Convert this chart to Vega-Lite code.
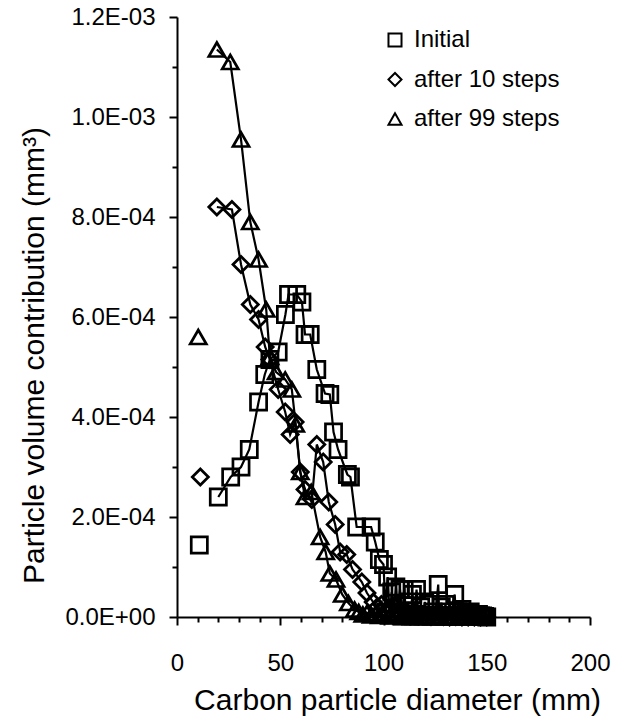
{
  "$schema": "https://vega.github.io/schema/vega-lite/v6.json",
  "width": 413,
  "height": 600,
  "autosize": {"type": "none"},
  "padding": {"left": 177, "top": 17, "right": 27, "bottom": 102},
  "background": "white",
  "config": {
    "view": {"stroke": null},
    "font": "Liberation Sans",
    "axis": {
      "grid": false,
      "domainColor": "black",
      "domainWidth": 2,
      "tickColor": "black",
      "tickWidth": 2,
      "labelColor": "black",
      "titleColor": "black",
      "labelFontSize": 24,
      "titleFontSize": 30,
      "titleFontWeight": "normal",
      "labelFlush": false,
      "labelOverlap": false
    },
    "legend": {"padding": 0}
  },
  "data": {
    "values": [
      {"s": "Initial", "x": 10.8, "y": 1.44e-4},
      {"s": "Initial", "x": 20, "y": 2.4e-4},
      {"s": "Initial", "x": 26, "y": 2.8e-4},
      {"s": "Initial", "x": 31, "y": 3.0e-4},
      {"s": "Initial", "x": 35, "y": 3.35e-4},
      {"s": "Initial", "x": 39.5, "y": 4.3e-4},
      {"s": "Initial", "x": 42.5, "y": 4.85e-4},
      {"s": "Initial", "x": 45, "y": 5.15e-4},
      {"s": "Initial", "x": 49, "y": 5.3e-4},
      {"s": "Initial", "x": 52.5, "y": 6.05e-4},
      {"s": "Initial", "x": 54, "y": 6.45e-4},
      {"s": "Initial", "x": 58, "y": 6.45e-4},
      {"s": "Initial", "x": 60.5, "y": 6.3e-4},
      {"s": "Initial", "x": 62, "y": 5.65e-4},
      {"s": "Initial", "x": 64.5, "y": 5.65e-4},
      {"s": "Initial", "x": 67.7, "y": 4.95e-4},
      {"s": "Initial", "x": 71.7, "y": 4.47e-4},
      {"s": "Initial", "x": 74, "y": 4.45e-4},
      {"s": "Initial", "x": 75.8, "y": 3.7e-4},
      {"s": "Initial", "x": 78, "y": 3.35e-4},
      {"s": "Initial", "x": 82.5, "y": 2.85e-4},
      {"s": "Initial", "x": 84, "y": 2.8e-4},
      {"s": "Initial", "x": 87, "y": 1.8e-4},
      {"s": "Initial", "x": 94, "y": 1.8e-4},
      {"s": "Initial", "x": 96, "y": 1.5e-4},
      {"s": "Initial", "x": 98, "y": 1.15e-4},
      {"s": "Initial", "x": 100, "y": 1.05e-4},
      {"s": "Initial", "x": 101, "y": 0.1e-4},
      {"s": "Initial", "x": 102, "y": 0.8e-4},
      {"s": "Initial", "x": 103, "y": 0.05e-4},
      {"s": "Initial", "x": 104, "y": 0.5e-4},
      {"s": "Initial", "x": 105, "y": 0.05e-4},
      {"s": "Initial", "x": 106, "y": 0.6e-4},
      {"s": "Initial", "x": 107, "y": 0.1e-4},
      {"s": "Initial", "x": 108, "y": 0.55e-4},
      {"s": "Initial", "x": 109, "y": 0.02e-4},
      {"s": "Initial", "x": 110, "y": 0.55e-4},
      {"s": "Initial", "x": 111, "y": 0.05e-4},
      {"s": "Initial", "x": 112, "y": 0.3e-4},
      {"s": "Initial", "x": 113, "y": 0.02e-4},
      {"s": "Initial", "x": 114, "y": 0.45e-4},
      {"s": "Initial", "x": 115, "y": 0.05e-4},
      {"s": "Initial", "x": 116, "y": 0.55e-4},
      {"s": "Initial", "x": 117, "y": 0.02e-4},
      {"s": "Initial", "x": 118, "y": 0.2e-4},
      {"s": "Initial", "x": 119, "y": 0.02e-4},
      {"s": "Initial", "x": 120, "y": 0.3e-4},
      {"s": "Initial", "x": 121, "y": 0.03e-4},
      {"s": "Initial", "x": 122, "y": 0.25e-4},
      {"s": "Initial", "x": 123, "y": 0.02e-4},
      {"s": "Initial", "x": 124, "y": 0.1e-4},
      {"s": "Initial", "x": 125, "y": 0.02e-4},
      {"s": "Initial", "x": 126.5, "y": 0.65e-4},
      {"s": "Initial", "x": 127, "y": 0.02e-4},
      {"s": "Initial", "x": 128, "y": 0.2e-4},
      {"s": "Initial", "x": 129, "y": 0.02e-4},
      {"s": "Initial", "x": 130, "y": 0.25e-4},
      {"s": "Initial", "x": 131, "y": 0.02e-4},
      {"s": "Initial", "x": 132, "y": 0.1e-4},
      {"s": "Initial", "x": 133, "y": 0.02e-4},
      {"s": "Initial", "x": 134.5, "y": 0.45e-4},
      {"s": "Initial", "x": 135, "y": 0.02e-4},
      {"s": "Initial", "x": 136, "y": 0.1e-4},
      {"s": "Initial", "x": 137, "y": 0.02e-4},
      {"s": "Initial", "x": 138, "y": 0.15e-4},
      {"s": "Initial", "x": 139, "y": 0.02e-4},
      {"s": "Initial", "x": 140, "y": 0.05e-4},
      {"s": "Initial", "x": 141, "y": 0.02e-4},
      {"s": "Initial", "x": 142, "y": 0.1e-4},
      {"s": "Initial", "x": 143, "y": 0.02e-4},
      {"s": "Initial", "x": 144, "y": 0.05e-4},
      {"s": "Initial", "x": 145, "y": 0.02e-4},
      {"s": "Initial", "x": 146, "y": 0.05e-4},
      {"s": "Initial", "x": 147, "y": 0.02e-4},
      {"s": "Initial", "x": 148, "y": 0.02e-4},
      {"s": "Initial", "x": 149, "y": 0.01e-4},
      {"s": "Initial", "x": 150, "y": 0},

      {"s": "after 10 steps", "x": 11.3, "y": 2.8e-4},
      {"s": "after 10 steps", "x": 19.3, "y": 8.2e-4},
      {"s": "after 10 steps", "x": 26.6, "y": 8.15e-4},
      {"s": "after 10 steps", "x": 31, "y": 7.05e-4},
      {"s": "after 10 steps", "x": 35.5, "y": 6.25e-4},
      {"s": "after 10 steps", "x": 39.5, "y": 5.95e-4},
      {"s": "after 10 steps", "x": 42.7, "y": 5.4e-4},
      {"s": "after 10 steps", "x": 45, "y": 5.15e-4},
      {"s": "after 10 steps", "x": 49, "y": 4.55e-4},
      {"s": "after 10 steps", "x": 52.4, "y": 4.1e-4},
      {"s": "after 10 steps", "x": 54.8, "y": 3.65e-4},
      {"s": "after 10 steps", "x": 57.2, "y": 3.9e-4},
      {"s": "after 10 steps", "x": 59.7, "y": 2.9e-4},
      {"s": "after 10 steps", "x": 62, "y": 2.55e-4},
      {"s": "after 10 steps", "x": 65.3, "y": 2.35e-4},
      {"s": "after 10 steps", "x": 67.7, "y": 3.45e-4},
      {"s": "after 10 steps", "x": 70.8, "y": 3.1e-4},
      {"s": "after 10 steps", "x": 73.5, "y": 2.3e-4},
      {"s": "after 10 steps", "x": 76.6, "y": 1.85e-4},
      {"s": "after 10 steps", "x": 79, "y": 1.3e-4},
      {"s": "after 10 steps", "x": 82.2, "y": 1.25e-4},
      {"s": "after 10 steps", "x": 85, "y": 0.95e-4},
      {"s": "after 10 steps", "x": 89.5, "y": 0.7e-4},
      {"s": "after 10 steps", "x": 92, "y": 0.48e-4},
      {"s": "after 10 steps", "x": 95, "y": 0.3e-4},
      {"s": "after 10 steps", "x": 97, "y": 0.2e-4},
      {"s": "after 10 steps", "x": 99, "y": 0.25e-4},
      {"s": "after 10 steps", "x": 101, "y": 0.1e-4},
      {"s": "after 10 steps", "x": 103, "y": 0.15e-4},
      {"s": "after 10 steps", "x": 105, "y": 0.05e-4},
      {"s": "after 10 steps", "x": 107, "y": 0.1e-4},
      {"s": "after 10 steps", "x": 109, "y": 0.05e-4},
      {"s": "after 10 steps", "x": 111, "y": 0.08e-4},
      {"s": "after 10 steps", "x": 113, "y": 0.03e-4},
      {"s": "after 10 steps", "x": 115, "y": 0.05e-4},
      {"s": "after 10 steps", "x": 117, "y": 0.02e-4},
      {"s": "after 10 steps", "x": 120, "y": 0.03e-4},
      {"s": "after 10 steps", "x": 123, "y": 0.01e-4},
      {"s": "after 10 steps", "x": 126, "y": 0.02e-4},
      {"s": "after 10 steps", "x": 129, "y": 0.01e-4},
      {"s": "after 10 steps", "x": 132, "y": 0},
      {"s": "after 10 steps", "x": 135, "y": 0.01e-4},
      {"s": "after 10 steps", "x": 138, "y": 0},
      {"s": "after 10 steps", "x": 141, "y": 0},
      {"s": "after 10 steps", "x": 144, "y": 0},
      {"s": "after 10 steps", "x": 147, "y": 0},
      {"s": "after 10 steps", "x": 150, "y": 0},

      {"s": "after 99 steps", "x": 10.3, "y": 5.6e-4},
      {"s": "after 99 steps", "x": 19.3, "y": 11.35e-4},
      {"s": "after 99 steps", "x": 25.8, "y": 11.1e-4},
      {"s": "after 99 steps", "x": 31, "y": 9.55e-4},
      {"s": "after 99 steps", "x": 35.5, "y": 7.9e-4},
      {"s": "after 99 steps", "x": 39.5, "y": 7.15e-4},
      {"s": "after 99 steps", "x": 43.2, "y": 6.15e-4},
      {"s": "after 99 steps", "x": 45, "y": 5.2e-4},
      {"s": "after 99 steps", "x": 48, "y": 4.9e-4},
      {"s": "after 99 steps", "x": 52.4, "y": 4.75e-4},
      {"s": "after 99 steps", "x": 55.6, "y": 4.55e-4},
      {"s": "after 99 steps", "x": 57.5, "y": 3.85e-4},
      {"s": "after 99 steps", "x": 59.7, "y": 2.9e-4},
      {"s": "after 99 steps", "x": 62, "y": 2.4e-4},
      {"s": "after 99 steps", "x": 65, "y": 2.5e-4},
      {"s": "after 99 steps", "x": 69.3, "y": 1.6e-4},
      {"s": "after 99 steps", "x": 72, "y": 1.3e-4},
      {"s": "after 99 steps", "x": 74, "y": 0.87e-4},
      {"s": "after 99 steps", "x": 77, "y": 0.75e-4},
      {"s": "after 99 steps", "x": 80, "y": 0.45e-4},
      {"s": "after 99 steps", "x": 83, "y": 0.28e-4},
      {"s": "after 99 steps", "x": 86, "y": 0.15e-4},
      {"s": "after 99 steps", "x": 88, "y": 0.1e-4},
      {"s": "after 99 steps", "x": 90, "y": 0.05e-4},
      {"s": "after 99 steps", "x": 92, "y": 0.08e-4},
      {"s": "after 99 steps", "x": 94, "y": 0.03e-4},
      {"s": "after 99 steps", "x": 96, "y": 0.05e-4},
      {"s": "after 99 steps", "x": 98, "y": 0.02e-4},
      {"s": "after 99 steps", "x": 100, "y": 0.03e-4},
      {"s": "after 99 steps", "x": 103, "y": 0.01e-4},
      {"s": "after 99 steps", "x": 106, "y": 0.02e-4},
      {"s": "after 99 steps", "x": 109, "y": 0},
      {"s": "after 99 steps", "x": 112, "y": 0.01e-4},
      {"s": "after 99 steps", "x": 115, "y": 0},
      {"s": "after 99 steps", "x": 118, "y": 0},
      {"s": "after 99 steps", "x": 121, "y": 0},
      {"s": "after 99 steps", "x": 124, "y": 0},
      {"s": "after 99 steps", "x": 127, "y": 0},
      {"s": "after 99 steps", "x": 130, "y": 0},
      {"s": "after 99 steps", "x": 133, "y": 0},
      {"s": "after 99 steps", "x": 136, "y": 0},
      {"s": "after 99 steps", "x": 139, "y": 0},
      {"s": "after 99 steps", "x": 142, "y": 0},
      {"s": "after 99 steps", "x": 145, "y": 0},
      {"s": "after 99 steps", "x": 148, "y": 0}
    ]
  },
  "encoding": {
    "x": {
      "field": "x",
      "type": "quantitative",
      "scale": {"domain": [0, 200], "nice": false},
      "axis": {
        "title": "Carbon particle diameter (mm)",
        "values": [0, 10, 20, 30, 40, 50, 60, 70, 80, 90, 100, 110, 120, 130, 140, 150, 160, 170, 180, 190, 200],
        "labelExpr": "datum.value % 50 == 0 ? datum.label : ''",
        "tickSize": {"condition": {"test": "datum.value % 50 == 0", "value": 8}, "value": 5},
        "labelPadding": 26,
        "titleX": 220,
        "titleY": 92,
        "titleAlign": "center",
        "titleBaseline": "alphabetic",
        "titleAnchor": null
      }
    },
    "y": {
      "field": "y",
      "type": "quantitative",
      "scale": {"domain": [0, 0.0012], "nice": false},
      "axis": {
        "title": "Particle volume contribution (mm³)",
        "values": [0, 0.0001, 0.0002, 0.0003, 0.0004, 0.0005, 0.0006, 0.0007, 0.0008, 0.0009, 0.001, 0.0011, 0.0012],
        "labelExpr": "round(datum.value*1e4) % 2 != 0 ? '' : (datum.value < 1e-9 ? '0.0E+00' : (datum.value < 0.00099 ? format(datum.value*1e4, '.1f') + 'E-04' : format(datum.value*1e3, '.1f') + 'E-03'))",
        "tickSize": {"condition": {"test": "round(datum.value*1e4) % 2 == 0", "value": 8}, "value": 5},
        "labelPadding": 14,
        "titleX": -134,
        "titleY": 338,
        "titleAlign": "center",
        "titleBaseline": "alphabetic",
        "titleAngle": -90
      }
    }
  },
  "layer": [
    {
      "transform": [{"filter": "datum.x > 15"}],
      "mark": {"type": "line", "color": "black", "strokeWidth": 2.2},
      "encoding": {"detail": {"field": "s", "type": "nominal"}}
    },
    {
      "mark": {"type": "point", "filled": false, "stroke": "black", "strokeWidth": 2.7, "size": 260, "opacity": 1},
      "encoding": {
        "shape": {
          "field": "s",
          "type": "nominal",
          "scale": {"domain": ["Initial", "after 10 steps", "after 99 steps"], "range": ["square", "diamond", "triangle-up"]},
          "legend": {
            "title": null,
            "orient": "none",
            "legendX": 206,
            "legendY": 11,
            "labelFontSize": 24,
            "labelColor": "black",
            "symbolSize": 170,
            "symbolStrokeWidth": 2,
            "symbolStrokeColor": "black",
            "symbolType": "square",
            "rowPadding": 15.5,
            "labelOffset": 7
          }
        }
      }
    }
  ]
}
